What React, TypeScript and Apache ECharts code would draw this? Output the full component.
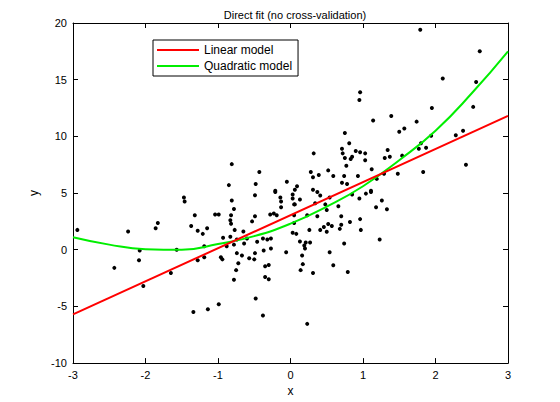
import React, { useEffect, useRef } from 'react';
import * as echarts from 'echarts';

// observed samples [x, y]
const points: number[][] = [
  [-2.94, 1.75], [-1.47, 4.6], [-1.46, 4.26], [-2.24, 1.6], [-1.86, 1.9], [-1.83, 2.35], [-1.32, 3.05],
  [-1.37, 2.1], [-1.28, 1.67], [-1.21, 1.4], [-1.15, 1.9], [-1.04, 3.1], [-0.99, 3.1], [-0.81, 4.35],
  [-0.78, 3.6], [-0.82, 3.05], [-0.83, 2.6], [-0.82, 2.3], [-0.77, 1.75], [-0.49, 4.8], [-0.14, 4.6],
  [-0.13, 4.26], [-0.13, 3.74], [-0.21, 5.1], [-0.28, 3.1], [-0.23, 3.2], [-0.19, 3.05], [-0.49, 2.96],
  [-0.53, 2.5], [-0.65, 1.6], [-0.83, 1.15], [-0.93, 1.06], [-0.88, 0.3], [-0.78, 0.45], [-0.74, 0.9],
  [-0.64, 0.55], [-0.6, 1.0], [-0.46, 0.7], [-0.38, 1.0], [-0.32, 0.9], [-0.27, 1.0], [-0.27, 0.1],
  [-0.37, -0.06], [-0.49, -0.3], [-0.57, -0.75], [-0.5, -0.85], [-0.67, -0.5], [-0.74, -0.3],
  [-0.72, -1.2], [-0.75, -1.8], [-0.78, -2.65], [-0.96, -0.67], [-0.94, -0.85], [-1.19, 0.3],
  [-1.19, -0.67], [-1.28, -0.93], [-1.57, 0.0], [-2.08, -0.06], [-2.09, -0.93], [-2.43, -1.6],
  [-1.65, -2.05], [-2.03, -3.2], [-0.99, -4.8], [-1.14, -5.25], [-1.34, -5.5], [-0.48, -4.3],
  [-0.38, -5.8], [-0.3, -1.35], [-0.35, -1.45], [-0.35, -2.4], [-0.3, -2.6], [-0.06, -0.23],
  [0.03, 4.87], [0.03, 4.52], [0.05, 4.0], [0.06, 4.0], [0.13, 4.43], [0.41, 4.78], [0.37, 5.1],
  [0.54, 4.6], [0.48, 4.0], [0.34, 4.1], [0.66, 3.83], [0.85, 4.87], [0.95, 4.52], [1.04, 4.95],
  [1.11, 5.1], [1.26, 4.35], [1.18, 3.74], [1.33, 3.57], [0.05, 3.05], [0.23, 3.05], [0.37, 2.96],
  [0.5, 3.5], [0.7, 2.96], [0.96, 2.7], [0.82, 2.45], [0.05, 2.36], [0.52, 2.27], [0.57, 2.1],
  [0.46, 2.0], [0.7, 2.2], [0.68, 1.84], [0.41, 1.75], [0.26, 1.75], [0.5, 1.58], [0.97, 1.75],
  [0.03, 1.5], [0.08, 1.4], [1.23, 0.9], [0.13, 0.72], [0.21, 0.63], [0.27, 0.63], [0.19, 0.37],
  [0.2, 0.1], [0.74, 0.55], [0.54, -0.23], [0.16, -0.5], [0.17, -1.27], [0.14, -1.8], [0.31, -2.05],
  [0.59, -1.36], [0.79, -1.96], [0.23, -6.54],
  [1.79, 19.4], [2.61, 17.5], [2.1, 15.1], [2.56, 14.8], [0.96, 13.9], [0.95, 13.2], [1.95, 12.5],
  [2.52, 12.6], [1.14, 11.4], [1.39, 11.8], [1.74, 11.3], [1.5, 10.4], [1.57, 10.7], [0.75, 10.3],
  [0.81, 9.4], [1.94, 10.05], [2.28, 10.1], [2.38, 10.5], [0.32, 8.5], [0.71, 8.9], [0.72, 8.5],
  [0.75, 8.1], [0.9, 8.7], [0.96, 8.6], [1.03, 8.5], [0.83, 8.0], [0.85, 8.2], [1.03, 7.9],
  [1.34, 8.8], [1.3, 8.1], [1.37, 8.2], [1.54, 8.3], [1.8, 9.4], [1.77, 8.9], [1.87, 9.0],
  [2.42, 7.5], [1.83, 6.85], [1.48, 6.7], [1.12, 7.1], [0.77, 7.4], [0.52, 7.0], [0.59, 6.5],
  [0.28, 6.85], [0.31, 6.4], [0.39, 6.6], [0.74, 6.5], [0.93, 6.5], [1.19, 6.25], [1.29, 6.7],
  [0.71, 5.9], [0.78, 5.8], [0.09, 5.6], [0.31, 5.3], [1.11, 5.2], [0.06, 5.3],
  [-0.81, 7.55], [-0.43, 6.85], [-0.85, 5.7], [-0.48, 5.8], [-0.05, 6.0], [-0.21, 5.2],
];

const linearFit: number[][] = [[-3, -5.7], [3, 11.8]];

const quadraticFit: number[][] = [
  [-3, 1.1], [-2.5, 0.45], [-2, 0.05], [-1.5, 0.0], [-1, 0.5], [-0.5, 1.2], [0, 2.3],
  [0.5, 3.8], [1, 5.6], [1.5, 7.9], [2, 10.5], [2.5, 13.8], [3, 17.5],
];

const xTicks = [-3, -2, -1, 0, 1, 2, 3];
const yTicks = [-10, -5, 0, 5, 10, 15, 20];

const FONT = 'Liberation Sans, Arial, sans-serif';

export default function App() {
  const ref = useRef<HTMLDivElement>(null);

  useEffect(() => {
    document.body.style.margin = '0';
    if (!ref.current) return;
    const chart = echarts.init(ref.current, null, { renderer: 'svg' });

    const boxAxis = {
      axisLine: { show: true, onZero: false, lineStyle: { color: '#000', width: 1 } },
      axisTick: { show: true, inside: true, length: 5, lineStyle: { color: '#000' } },
      splitLine: { show: false },
    };

    chart.setOption({
      animation: false,
      backgroundColor: '#fff',
      textStyle: { fontFamily: FONT },
      title: {
        text: 'Direct fit (no cross-validation)',
        left: 290,
        top: 4,
        textAlign: 'center',
        textStyle: { fontSize: 11, fontWeight: 'normal', color: '#000', fontFamily: FONT },
      },
      legend: {
        orient: 'vertical',
        left: 153,
        top: 40,
        padding: [4, 6, 4, 4],
        itemGap: 4,
        itemWidth: 42,
        itemHeight: 2,
        borderColor: '#000',
        borderWidth: 1,
        backgroundColor: '#fff',
        data: [
          { name: 'Linear model', icon: 'rect' },
          { name: 'Quadratic model', icon: 'rect' },
        ],
        textStyle: { fontSize: 12, color: '#000', fontFamily: FONT },
      },
      grid: { left: 73, right: 52, top: 23, bottom: 32 },
      xAxis: [
        {
          type: 'value', min: -3, max: 3, interval: 1,
          name: 'x', nameLocation: 'middle', nameGap: 16,
          nameTextStyle: { fontSize: 12, color: '#000' },
          axisLabel: { color: '#000', fontSize: 11, margin: 6,
            formatter: (v: number) => (xTicks.includes(v) ? String(v) : '') },
          ...boxAxis,
        },
        { type: 'value', min: -3, max: 3, interval: 1, position: 'top', axisLabel: { show: false }, ...boxAxis },
      ],
      yAxis: [
        {
          type: 'value', min: -10, max: 20, interval: 5,
          name: 'y', nameLocation: 'middle', nameGap: 28,
          nameTextStyle: { fontSize: 12, color: '#000' },
          axisLabel: { color: '#000', fontSize: 11, margin: 6,
            formatter: (v: number) => (yTicks.includes(v) ? String(v) : '') },
          ...boxAxis,
        },
        { type: 'value', min: -10, max: 20, interval: 5, position: 'right', axisLabel: { show: false }, ...boxAxis },
      ],
      series: [
        {
          name: 'data', type: 'scatter', data: points, symbol: 'circle', symbolSize: 4,
          itemStyle: { color: '#000', opacity: 1 }, z: 1,
        },
        {
          name: 'Linear model', type: 'line', data: linearFit, showSymbol: false,
          lineStyle: { color: '#ff0000', width: 2 }, itemStyle: { color: '#ff0000' }, z: 3,
        },
        {
          name: 'Quadratic model', type: 'line', data: quadraticFit, smooth: true, showSymbol: false,
          lineStyle: { color: '#00ee00', width: 2 }, itemStyle: { color: '#00ee00' }, z: 2,
        },
      ],
    });

    return () => chart.dispose();
  }, []);

  return <div ref={ref} style={{ width: 560, height: 402 }} />;
}
